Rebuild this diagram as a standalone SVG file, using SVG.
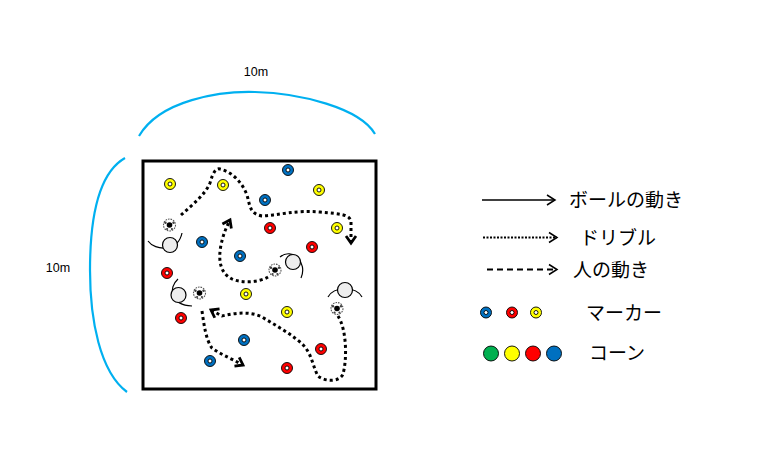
<svg xmlns="http://www.w3.org/2000/svg" xmlns:xlink="http://www.w3.org/1999/xlink" width="763" height="462" viewBox="0 0 763 462">
<style>
.lbl{font-family:"Liberation Sans",Arial,sans-serif;font-size:12.5px;fill:#000}
.jp{font-family:"Noto Sans CJK JP","Noto Sans",sans-serif;font-size:19px;fill:#000}
.arc{fill:none;stroke:#00B0F0;stroke-width:2.2}
.dr{fill:none;stroke:#000;stroke-width:3;stroke-dasharray:3 3}
.ring{stroke:#000;stroke-width:0.9}
.hole{fill:#fff;stroke:#000;stroke-width:0.9}
.b{fill:#0070C0}.r{fill:#FF0000}.y{fill:#FFFF00}.g{fill:#00B050}
.head{fill:#eeeeee;stroke:#000;stroke-width:1.2}
.arm{fill:none;stroke:#000;stroke-width:1.2}
</style>
<defs>
<marker id="chev" markerUnits="userSpaceOnUse" markerWidth="20" markerHeight="20" viewBox="-10 -10 20 20" refX="0" refY="0" orient="auto" overflow="visible">
<path d="M-7,-5 L0,0 L-7,5" fill="none" stroke="#000" stroke-width="2.8" stroke-dasharray="none"/>
</marker>
<marker id="lchev" markerUnits="userSpaceOnUse" markerWidth="20" markerHeight="20" viewBox="-10 -10 20 20" refX="0" refY="0" orient="auto" overflow="visible">
<path d="M-8,-5 L0,0 L-8,5" fill="none" stroke="#000" stroke-width="1.5" stroke-dasharray="none"/>
</marker>
<g id="ball">
<circle r="6" fill="#fff" stroke="#555" stroke-width="1.1" stroke-dasharray="1.6 1"/>
<circle r="2.8" fill="#000"/>
<circle cx="-4" cy="-2.2" r="1.2" fill="#444"/>
<circle cx="4" cy="-2.2" r="1.2" fill="#444"/>
<circle cx="-2.4" cy="4" r="1.1" fill="#444"/>
<circle cx="2.4" cy="4" r="1.1" fill="#444"/>
</g>
</defs>
<rect width="763" height="462" fill="#fff"/>

<g id="dimensions">
<path class="arc" d="M139,136 C160,100 220,91 255,92 C300,93 360,108 375,134"/>
<text class="lbl" x="256" y="76" text-anchor="middle">10m</text>
<path class="arc" d="M125,158 C95,175 90,230 90,270 C90,320 100,372 127,392"/>
<text class="lbl" x="58" y="272" text-anchor="middle">10m</text>
</g>

<g id="field">
<rect x="143" y="161" width="233" height="228" fill="#fff" stroke="#000" stroke-width="3"/>
</g>

<g id="markers">
<circle class="ring y" cx="170" cy="184" r="5.5"/><circle class="hole" cx="170" cy="184" r="2"/>
<circle class="ring y" cx="223" cy="185" r="5.5"/><circle class="hole" cx="223" cy="185" r="2"/>
<circle class="ring b" cx="288" cy="170" r="5.5"/><circle class="hole" cx="288" cy="170" r="2"/>
<circle class="ring y" cx="319" cy="190" r="5.5"/><circle class="hole" cx="319" cy="190" r="2"/>
<circle class="ring b" cx="265" cy="200" r="5.5"/><circle class="hole" cx="265" cy="200" r="2"/>
<circle class="ring r" cx="270" cy="228" r="5.5"/><circle class="hole" cx="270" cy="228" r="2"/>
<circle class="ring y" cx="337" cy="228" r="5.5"/><circle class="hole" cx="337" cy="228" r="2"/>
<circle class="ring r" cx="312" cy="247" r="5.5"/><circle class="hole" cx="312" cy="247" r="2"/>
<circle class="ring b" cx="202" cy="242" r="5.5"/><circle class="hole" cx="202" cy="242" r="2"/>
<circle class="ring b" cx="240" cy="256" r="5.5"/><circle class="hole" cx="240" cy="256" r="2"/>
<circle class="ring r" cx="167" cy="273" r="5.5"/><circle class="hole" cx="167" cy="273" r="2"/>
<circle class="ring y" cx="246" cy="294" r="5.5"/><circle class="hole" cx="246" cy="294" r="2"/>
<circle class="ring r" cx="181" cy="318" r="5.5"/><circle class="hole" cx="181" cy="318" r="2"/>
<circle class="ring y" cx="287" cy="312" r="5.5"/><circle class="hole" cx="287" cy="312" r="2"/>
<circle class="ring b" cx="244" cy="340" r="5.5"/><circle class="hole" cx="244" cy="340" r="2"/>
<circle class="ring r" cx="321" cy="349" r="5.5"/><circle class="hole" cx="321" cy="349" r="2"/>
<circle class="ring b" cx="210" cy="361" r="5.5"/><circle class="hole" cx="210" cy="361" r="2"/>
<circle class="ring r" cx="287" cy="368" r="5.5"/><circle class="hole" cx="287" cy="368" r="2"/>
</g>

<g id="connectors">
<path class="dr" marker-end="url(#chev)" d="M181,215 C192,205 205,195 210,183 C213,172 216,168 220,169 C232,172 242,182 247,195 C250,206 250,214 262,216 C280,215 295,210 320,212 C340,214 350,214 351,222 L351,243"/>
<path class="dr" marker-end="url(#chev)" d="M268,277 C258,283 240,283 232,279 C220,273 218,260 221,245 C223,235 226,228 230,220"/>
<path class="dr" marker-end="url(#chev)" d="M338,316 C347,330 347,360 343,374 C340,382 325,382 318,376 C312,365 312,352 300,342 C288,332 275,325 262,317 C250,311 235,313 222,316 L211,310"/>
<path class="dr" marker-end="url(#chev)" d="M202,311 C204,325 206,340 212,348 C220,354 230,358 243,365"/>
</g>

<g id="player1">
<path class="arm" d="M148,241 C155,251 178,252 182,233"/>
<circle class="head" cx="170" cy="245" r="7.5"/>
<use xlink:href="#ball" href="#ball" x="169.5" y="225"/>
</g>
<g id="player2">
<path class="arm" d="M280,257 C292,247 308,262 301,278"/>
<circle class="head" cx="293" cy="262" r="7.5"/>
<use xlink:href="#ball" href="#ball" x="275" y="270"/>
</g>
<g id="player3">
<path class="arm" d="M328,297 C334,286 356,286 362,297"/>
<circle class="head" cx="345" cy="290" r="7.5"/>
<use xlink:href="#ball" href="#ball" x="337" y="308.5"/>
</g>
<g id="player4">
<path class="arm" d="M178,279 C168,288 170,305 192,306"/>
<circle class="head" cx="178.5" cy="295" r="7.5"/>
<use xlink:href="#ball" href="#ball" x="199.5" y="293"/>
</g>

<g id="legend">
<line x1="482" y1="200" x2="555" y2="200" stroke="#000" stroke-width="1.5" marker-end="url(#lchev)"/>
<text class="jp" x="569" y="207">ボールの動き</text>
<line x1="483" y1="237.5" x2="557" y2="237.5" stroke="#000" stroke-width="2" stroke-dasharray="2 1.5" marker-end="url(#lchev)"/>
<text class="jp" x="580" y="245">ドリブル</text>
<line x1="487" y1="269.5" x2="557" y2="269.5" stroke="#000" stroke-width="2" stroke-dasharray="6 4" marker-end="url(#lchev)"/>
<text class="jp" x="573" y="277">人の動き</text>
<circle class="ring b" cx="486" cy="312.5" r="5.5"/><circle class="hole" cx="486" cy="312.5" r="2"/>
<circle class="ring r" cx="512" cy="312.5" r="5.5"/><circle class="hole" cx="512" cy="312.5" r="2"/>
<circle class="ring y" cx="536" cy="312.5" r="5.5"/><circle class="hole" cx="536" cy="312.5" r="2"/>
<text class="jp" x="586" y="320">マーカー</text>
<circle class="ring g" cx="491" cy="353.5" r="7.5"/>
<circle class="ring y" cx="512" cy="353.5" r="7.5"/>
<circle class="ring r" cx="533" cy="353.5" r="7.5"/>
<circle class="ring b" cx="554" cy="353.5" r="7.5"/>
<text class="jp" x="589" y="360">コーン</text>
</g>
</svg>
